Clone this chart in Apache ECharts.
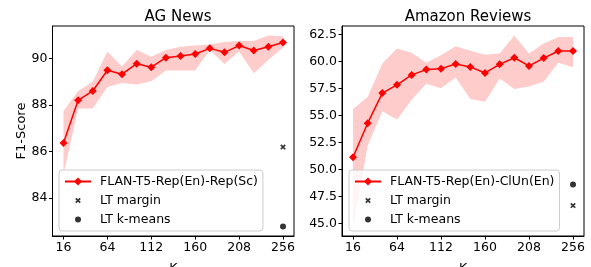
<!DOCTYPE html>
<html>
<head>
<meta charset="utf-8">
<script src="https://cdn.jsdelivr.net/npm/echarts@6/dist/echarts.min.js"></script>
<style>
  html, body { margin: 0; padding: 0; background: #fff; }
  #chart { width: 591px; height: 267px; }
</style>
</head>
<body>
<div id="chart"></div>
<script>
// shots per class (K)
const kValues = [16, 32, 48, 64, 80, 96, 112, 128, 144, 160, 176, 192, 208, 224, 240, 256];

// AG News
const agMean  = [86.36, 88.2, 88.6, 89.49, 89.32, 89.77, 89.62, 90.03, 90.1, 90.19, 90.43, 90.26, 90.55, 90.34, 90.5, 90.68];
const agUpper = [87.74, 88.6, 89.0, 90.3, 89.65, 90.36, 90.07, 90.36, 90.5, 90.55, 90.6, 90.7, 90.75, 90.75, 90.98, 90.95];
const agLower = [85.0, 87.85, 87.85, 88.77, 88.94, 88.88, 89.02, 89.48, 89.48, 89.48, 90.36, 89.76, 90.3, 89.36, 89.93, 90.47];
const agMargin = 86.19;
const agKmeans = 82.78;

// Amazon Reviews
const azMean  = [51.11, 54.27, 57.06, 57.82, 58.74, 59.23, 59.32, 59.75, 59.48, 58.92, 59.72, 60.33, 59.57, 60.3, 60.95, 60.95];
const azUpper = [55.59, 56.69, 59.8, 61.19, 60.79, 59.87, 60.55, 61.4, 60.97, 60.6, 60.73, 62.39, 60.73, 61.65, 62.26, 62.26];
const azLower = [44.7, 52.2, 55.37, 54.6, 56.44, 57.91, 57.5, 58.5, 56.5, 56.26, 58.4, 57.43, 57.67, 58.1, 59.87, 59.45];
const azMargin = 46.64;
const azKmeans = 48.6;

const xTicks = [16, 64, 112, 160, 208, 256];
const agTicks = [84, 86, 88, 90];
const azTicks = [45, 47.5, 50, 52.5, 55, 57.5, 60, 62.5];

const FONT = "DejaVu Sans";
const RED = "#ff0000";
const BAND = "#ffcccc";
const crossPath = "path://M0 0M10 10M2.8 2.8L7.2 7.2M7.2 2.8L2.8 7.2";
const dotPath = "path://M0 0M10 10M5 2A3 3 0 1 1 5 8A3 3 0 1 1 5 2Z";

const chart = echarts.init(document.getElementById("chart"));

function bandSeries(idx, upper, lower) {
  return {
    type: "custom",
    xAxisIndex: idx,
    yAxisIndex: idx,
    silent: true,
    z: 1,
    data: kValues.map((k, i) => [k, lower[i], upper[i]]),
    encode: { x: 0, y: [1, 2] },
    renderItem(params, api) {
      if (params.dataIndex !== 0) return;
      const pts = [];
      kValues.forEach((k, i) => pts.push(api.coord([k, upper[i]])));
      for (let i = kValues.length - 1; i >= 0; i--) pts.push(api.coord([kValues[i], lower[i]]));
      return { type: "polygon", shape: { points: pts }, style: { fill: BAND } };
    },
  };
}

function panelSeries(idx, name, mean, upper, lower, margin, kmeans) {
  return [
    bandSeries(idx, upper, lower),
    {
      name: name,
      type: "line",
      xAxisIndex: idx,
      yAxisIndex: idx,
      z: 3,
      data: kValues.map((k, i) => [k, mean[i]]),
      symbol: "diamond",
      symbolSize: 8,
      itemStyle: { color: RED },
      lineStyle: { color: RED, width: 1.5 },
    },
    {
      name: "LT margin",
      type: "scatter",
      xAxisIndex: idx,
      yAxisIndex: idx,
      z: 3,
      data: [[256, margin]],
      symbol: crossPath,
      symbolSize: 10,
      itemStyle: { color: "#000", borderColor: "#000", borderWidth: 1.7 },
    },
    {
      name: "LT k-means",
      type: "scatter",
      xAxisIndex: idx,
      yAxisIndex: idx,
      z: 3,
      data: [[256, kmeans]],
      symbol: dotPath,
      symbolSize: 10,
      itemStyle: { color: "#000" },
    },
  ];
}

function legendFor(name, left) {
  return {
    orient: "vertical",
    left: left,
    top: 170,
    padding: [4, 5, 4, 5],
    itemGap: 4,
    itemWidth: 26,
    itemHeight: 10,
    backgroundColor: "rgba(255,255,255,0.8)",
    borderColor: "#cccccc",
    borderWidth: 1,
    borderRadius: 3,
    selectedMode: false,
    textStyle: { fontFamily: FONT, fontSize: 12.5, color: "#000", lineHeight: 15, padding: [0, 0, 0, 4] },
    data: [
      name,
      { name: "LT margin", icon: crossPath, itemStyle: { color: "#000", borderColor: "#000", borderWidth: 1.7 } },
      { name: "LT k-means", icon: dotPath, itemStyle: { color: "#000", borderWidth: 0 } },
    ],
  };
}

function xAxisFor(idx) {
  return {
    type: "value",
    gridIndex: idx,
    min: 4,
    max: 268,
    name: "K",
    nameLocation: "middle",
    nameGap: 26,
    nameTextStyle: { fontFamily: FONT, fontSize: 12.5, color: "#000" },
    axisLine: { show: true, lineStyle: { color: "#000", width: 1 } },
    axisTick: { show: true, length: 3.5, customValues: xTicks, lineStyle: { color: "#000" } },
    axisLabel: { customValues: xTicks, margin: 5, fontFamily: FONT, fontSize: 12.5, color: "#000" },
    splitLine: { show: false },
  };
}

function yAxisFor(idx, min, max, ticks, fmt, name) {
  return {
    type: "value",
    gridIndex: idx,
    min: min,
    max: max,
    name: name,
    nameLocation: "middle",
    nameGap: 24,
    nameTextStyle: { fontFamily: FONT, fontSize: 13, color: "#000" },
    axisLine: { show: true, lineStyle: { color: "#000", width: 1 } },
    axisTick: { show: true, length: 3.5, customValues: ticks, lineStyle: { color: "#000" } },
    axisLabel: { customValues: ticks, margin: 5, formatter: fmt, fontFamily: FONT, fontSize: 12.5, color: "#000" },
    splitLine: { show: false },
  };
}

chart.setOption({
  animation: false,
  title: [
    { text: "AG News", left: 173, top: 5, textAlign: "center",
      textStyle: { fontFamily: FONT, fontSize: 15, fontWeight: "normal", color: "#000" } },
    { text: "Amazon Reviews", left: 463, top: 5, textAlign: "center",
      textStyle: { fontFamily: FONT, fontSize: 15, fontWeight: "normal", color: "#000" } },
  ],
  grid: [
    { left: 52.5, top: 26, width: 241.5, height: 210, show: true, borderColor: "#000", borderWidth: 1,
      outerBoundsMode: "none" },
    { left: 342, top: 26, width: 242, height: 210, show: true, borderColor: "#000", borderWidth: 1,
      outerBoundsMode: "none" },
  ],
  legend: [
    legendFor("FLAN-T5-Rep(En)-Rep(Sc)", 59),
    legendFor("FLAN-T5-Rep(En)-ClUn(En)", 349),
  ],
  xAxis: [xAxisFor(0), xAxisFor(1)],
  yAxis: [
    yAxisFor(0, 82.37, 91.39, agTicks, (v) => String(v), "F1-Score"),
    yAxisFor(1, 43.82, 63.27, azTicks, (v) => v.toFixed(1), ""),
  ],
  series: [
    ...panelSeries(0, "FLAN-T5-Rep(En)-Rep(Sc)", agMean, agUpper, agLower, agMargin, agKmeans),
    ...panelSeries(1, "FLAN-T5-Rep(En)-ClUn(En)", azMean, azUpper, azLower, azMargin, azKmeans),
  ],
});
</script>
</body>
</html>
